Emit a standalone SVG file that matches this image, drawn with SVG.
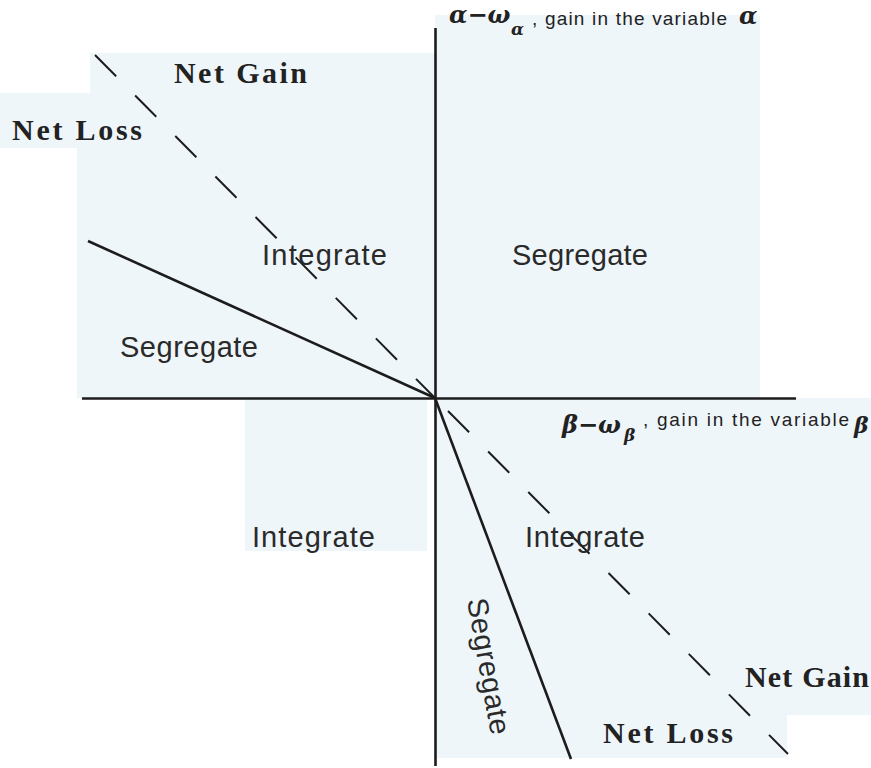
<svg xmlns="http://www.w3.org/2000/svg" width="871" height="768" viewBox="0 0 871 768">
<style>
.bg{fill:#eff6fa}
.ax{stroke:#1c1c1c;stroke-width:2.6;fill:none}
.sol{stroke:#1c1c1c;stroke-width:2.6;fill:none}
.dash{stroke:#1c1c1c;stroke-width:2;fill:none;stroke-dasharray:30 27}
.sans{font-family:"Liberation Sans",Arial,sans-serif;font-size:29px;fill:#2a2a2a}
.serif{font-family:"Liberation Serif","Times New Roman",serif;font-size:30px;font-weight:bold;fill:#222}
.math{font-family:"DejaVu Serif",serif;font-style:italic;font-weight:bold;fill:#222}
.small{font-family:"Liberation Sans",Arial,sans-serif;font-size:19px;fill:#222}
</style>
<rect width="871" height="768" fill="#ffffff"/>
<g id="background">
<rect class="bg" x="90" y="53" width="345" height="345"/>
<rect class="bg" x="77" y="93" width="20" height="305"/>
<rect class="bg" x="0" y="93" width="80" height="55"/>
<rect class="bg" x="435" y="15" width="325" height="383"/>
<rect class="bg" x="245" y="398" width="182" height="153"/>
<rect class="bg" x="435" y="398" width="436" height="317"/>
<rect class="bg" x="435" y="715" width="352" height="43"/>
</g>
<g id="connectors">
<line class="ax" x1="82" y1="398.5" x2="796" y2="398.5"/>
<line class="ax" x1="435.5" y1="28" x2="435.5" y2="766"/>
<line class="sol" x1="88" y1="241" x2="435" y2="398"/>
<line class="sol" x1="435" y1="398" x2="571" y2="759"/>
<line class="dash" x1="95" y1="55" x2="435" y2="398"/>
<line class="dash" x1="448" y1="411" x2="788" y2="754"/>
</g>
<g id="label-net-gain-top"><text class="serif" x="174" y="83" textLength="133" lengthAdjust="spacing">Net Gain</text></g>
<g id="label-net-loss-top"><text class="serif" x="12" y="140" textLength="130" lengthAdjust="spacing">Net Loss</text></g>
<g id="label-integrate-tl"><text class="sans" x="262" y="265" textLength="125" lengthAdjust="spacing">Integrate</text></g>
<g id="label-segregate-tr"><text class="sans" x="512" y="265" textLength="136" lengthAdjust="spacing">Segregate</text></g>
<g id="label-segregate-l"><text class="sans" x="120" y="357" textLength="138" lengthAdjust="spacing">Segregate</text></g>
<g id="label-integrate-bl"><text class="sans" x="252" y="547" textLength="123" lengthAdjust="spacing">Integrate</text></g>
<g id="label-integrate-br"><text class="sans" x="525" y="547" textLength="120" lengthAdjust="spacing">Integrate</text></g>
<g id="label-segregate-v"><text class="sans" x="479" y="668" text-anchor="middle" textLength="138" lengthAdjust="spacing" transform="rotate(80 479 668)">Segregate</text></g>
<g id="label-net-gain-br"><text class="serif" x="745" y="687" textLength="124" lengthAdjust="spacing">Net Gain</text></g>
<g id="label-net-loss-br"><text class="serif" x="603" y="743" textLength="130" lengthAdjust="spacing">Net Loss</text></g>
<g id="axis-label-y">
<text class="math" x="449" y="23" font-size="24">α−ω</text>
<text class="math" x="511" y="35" font-size="17">α</text>
<text class="small" x="532" y="25" textLength="195" lengthAdjust="spacing">, gain in the variable</text>
<text class="math" x="739" y="24" font-size="24">α</text>
</g>
<g id="axis-label-x">
<text class="math" x="562" y="433" font-size="24">β−ω</text>
<text class="math" x="624" y="441" font-size="17">β</text>
<text class="small" x="643" y="426" textLength="206" lengthAdjust="spacing">, gain in the variable</text>
<text class="math" x="854" y="433" font-size="22">β</text>
</g>
</svg>
